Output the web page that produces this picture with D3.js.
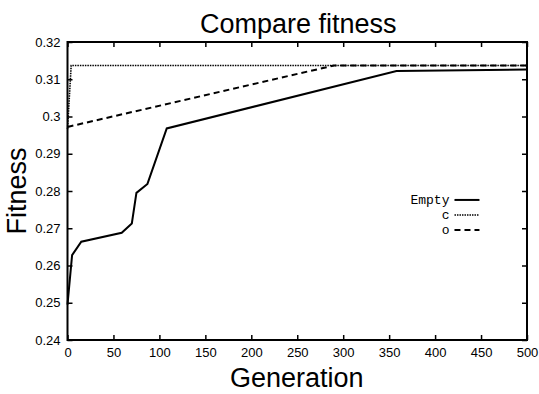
<!DOCTYPE html>
<html>
<head>
<meta charset="utf-8">
<script src="https://cdn.jsdelivr.net/npm/d3@7"></script>
<style>
  body { margin: 0; background: #fff; }
  svg { display: block; }
</style>
</head>
<body>
<div id="chart"></div>
<script>
"use strict";

// values: [generation, fitness]
var emptyData = [[0, 0.2495], [5, 0.2628], [15, 0.2664], [59, 0.2688], [70, 0.2713],
                 [75, 0.2795], [87, 0.2819], [108, 0.2968], [358, 0.3122], [500, 0.3126]];
var cData = [[0, 0.2966], [4, 0.3137], [500, 0.3137]];
var oData = [[0, 0.2972], [290, 0.3137], [500, 0.3137]];

var seriesNames = ["Empty", "c", "o"];
var xTicks = [0, 50, 100, 150, 200, 250, 300, 350, 400, 450, 500];
var yTicks = [0.24, 0.25, 0.26, 0.27, 0.28, 0.29, 0.3, 0.31, 0.32];

function drawChart(containerId) {
  var width = 539, height = 394;
  var margin = {top: 42, right: 12, bottom: 54, left: 67.5};
  var w = width - margin.left - margin.right,
      h = height - margin.top - margin.bottom;

  var x = d3.scaleLinear().domain([0, 500]).range([0, w]);
  var y = d3.scaleLinear().domain([0.24, 0.32]).range([h, 0]);

  var svg = d3.select(containerId).append("svg")
      .attr("width", width)
      .attr("height", height)
      .style("font-family", "'Liberation Sans', Arial, sans-serif");

  var g = svg.append("g")
      .attr("transform", "translate(" + margin.left + "," + margin.top + ")");

  var line = d3.line()
    .x(function(d) { return x(d[0]); })
    .y(function(d) { return y(d[1]); });

  // series: style per series kept here
  var styles = [
    {width: 2, dash: null},
    {width: 1.6, dash: "1.5,1"},
    {width: 2, dash: "6,4"}
  ];
  [emptyData, cData, oData].forEach(function(d, i) {
    g.append("path")
        .datum(d)
        .attr("fill", "none")
        .attr("stroke", "#000")
        .attr("stroke-width", styles[i].width)
        .attr("stroke-dasharray", styles[i].dash)
        .attr("d", line);
  });

  // axes with inward ticks on all four sides
  var fmtY = function(d) { return String(+d.toFixed(2)); };
  var bottom = g.append("g")
      .attr("transform", "translate(0," + h + ")")
      .call(d3.axisBottom(x).tickValues(xTicks).tickSizeInner(-5).tickSizeOuter(0).tickPadding(8));
  var left = g.append("g")
      .call(d3.axisLeft(y).tickValues(yTicks).tickFormat(fmtY).tickSizeInner(-5).tickSizeOuter(0).tickPadding(7));
  var top = g.append("g")
      .call(d3.axisTop(x).tickValues(xTicks).tickFormat("").tickSizeInner(-5).tickSizeOuter(0));
  var right = g.append("g")
      .attr("transform", "translate(" + w + ",0)")
      .call(d3.axisRight(y).tickValues(yTicks).tickFormat("").tickSizeInner(-5).tickSizeOuter(0));

  [bottom, left, top, right].forEach(function(a) {
    a.select(".domain").remove();
    a.selectAll("line").attr("stroke", "#000").attr("stroke-width", 1.5);
    a.selectAll("text")
        .attr("fill", "#000")
        .style("font-size", "13px")
        .style("font-family", "'Liberation Sans', Arial, sans-serif");
  });

  // frame
  g.append("rect")
      .attr("width", w).attr("height", h)
      .attr("fill", "none").attr("stroke", "#000").attr("stroke-width", 2);

  // legend
  var legend = g.append("g")
      .attr("transform", "translate(" + (x(420) - 4) + "," + (y(0.2776)) + ")");
  seriesNames.forEach(function(name, i) {
    var row = legend.append("g").attr("transform", "translate(0," + (i * 15) + ")");
    row.append("text")
        .attr("x", 0).attr("y", 4)
        .attr("text-anchor", "end")
        .style("font-family", "'Liberation Mono', 'Courier New', monospace")
        .style("font-size", "13px")
        .text(name);
    row.append("line")
        .attr("x1", 5).attr("x2", 30)
        .attr("stroke", "#000")
        .attr("stroke-width", styles[i].width)
        .attr("stroke-dasharray", styles[i].dash);
  });

  // titles
  svg.append("text")
      .attr("x", margin.left + w / 2 + 1).attr("y", 33)
      .attr("text-anchor", "middle")
      .style("font-size", "27px")
      .text("Compare fitness");
  svg.append("text")
      .attr("x", margin.left + w / 2 - 0.5).attr("y", 387)
      .attr("text-anchor", "middle")
      .style("font-size", "27px")
      .text("Generation");
  svg.append("text")
      .attr("transform", "translate(26," + (margin.top + h / 2) + ") rotate(-90)")
      .attr("text-anchor", "middle")
      .style("font-size", "27px")
      .text("Fitness");
}

drawChart("#chart");
</script>
</body>
</html>
